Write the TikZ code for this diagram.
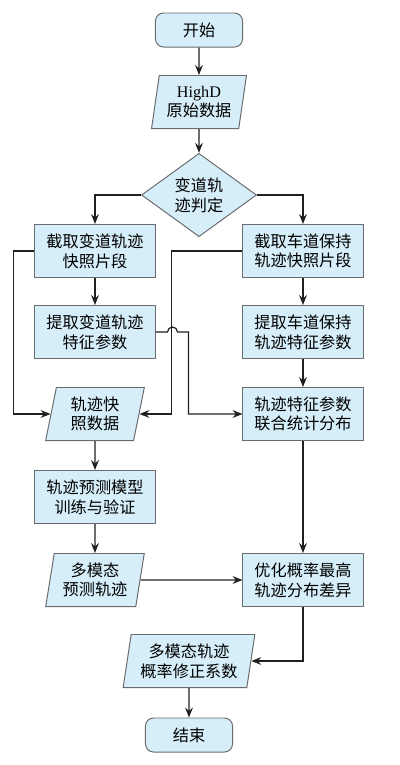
\documentclass[tikz,border=0pt]{standalone}
\usepackage{fontspec}
\setmainfont{Liberation Serif}
\newfontfamily\cjk{Noto Sans CJK SC}
\usepackage{xcolor}
\usetikzlibrary{shapes.geometric, arrows.meta}
\definecolor{boxfill}{HTML}{D6EEF9}
\definecolor{boxline}{HTML}{6A6B6D}
\definecolor{arrowline}{HTML}{231F20}

\begin{document}
\begin{tikzpicture}[
    x=0.025cm, y=0.025cm,
    font=\cjk\fontsize{11.5}{14}\selectfont,
    base/.style={draw=boxline, fill=boxfill, line width=0.7pt, align=center, inner sep=0pt},
    procbox/.style={base, rectangle, minimum width=3cm, minimum height=1.325cm},
    termbox/.style={base, rectangle, rounded corners=0.2cm, minimum width=2.175cm, minimum height=0.85cm},
    iobox/.style={base, trapezium, trapezium left angle=79, trapezium right angle=101,
        trapezium stretches=true, minimum width=#1, minimum height=1.325cm},
    iobox/.default=2.475cm,
    judgebox/.style={base, diamond, minimum width=2.875cm, minimum height=1.875cm},
    arrow/.style={draw=arrowline, line width=0.85pt, -{Stealth[length=7pt, width=5.5pt]}}
]

    \useasboundingbox (0,0) rectangle (400,-765);

    % Main column
    \node[termbox] (start) at (199,-30) {开始};
    \node[iobox=2.375cm] (data) at (199,-102) {{\rmfamily HighD}\\原始数据};
    \node[judgebox] (judge) at (199,-195) {变道轨\\迹判定};

    % Left branch (lane change)
    \node[procbox] (lb1) at (95,-251) {截取变道轨迹\\快照片段};
    \node[procbox] (lb2) at (95,-332) {提取变道轨迹\\特征参数};
    \node[iobox] (snap) at (95,-414) {轨迹快\\照数据};
    \node[procbox] (lb3) at (95,-497) {轨迹预测模型\\训练与验证};
    \node[iobox] (pred) at (95,-580) {多模态\\预测轨迹};

    % Right branch (lane keeping)
    \node[procbox] (rb1) at (303,-251) {截取车道保持\\轨迹快照片段};
    \node[procbox] (rb2) at (303,-332) {提取车道保持\\轨迹特征参数};
    \node[procbox] (rb3) at (303,-414) {轨迹特征参数\\联合统计分布};
    \node[procbox] (rb4) at (303,-580) {优化概率最高\\轨迹分布差异};

    % Output
    \node[iobox=3.3cm] (coef) at (189,-661) {多模态轨迹\\概率修正系数};
    \node[termbox] (stop) at (189,-735) {结束};

    % Connectors
    \draw[arrow] (start) -- (data);
    \draw[arrow] (data) -- (judge);
    \draw[arrow] (judge.west) -| (lb1.north);
    \draw[arrow] (judge.east) -| (rb1.north);
    \draw[arrow] (lb1) -- (lb2);
    \draw[arrow] (rb1) -- (rb2);
    \draw[arrow] (rb2) -- (rb3);
    \draw[arrow] (lb1.west) -- ++(-21,0) |- (snap.west);
    \draw[arrow] (rb1.west) -- ++(-71,0) |- (snap.east);
    \draw[arrow] (lb2.east) -- ++(12,0) arc[start angle=180, end angle=0, radius=5]
        -- ++(11,0) |- (rb3.west);
    \draw[arrow] (snap) -- (lb3);
    \draw[arrow] (lb3) -- (pred);
    \draw[arrow] (pred) -- (rb4);
    \draw[arrow] (rb3) -- (rb4);
    \draw[arrow] (rb4.south) |- (coef.east);
    \draw[arrow] (coef) -- (stop);

\end{tikzpicture}
\end{document}
